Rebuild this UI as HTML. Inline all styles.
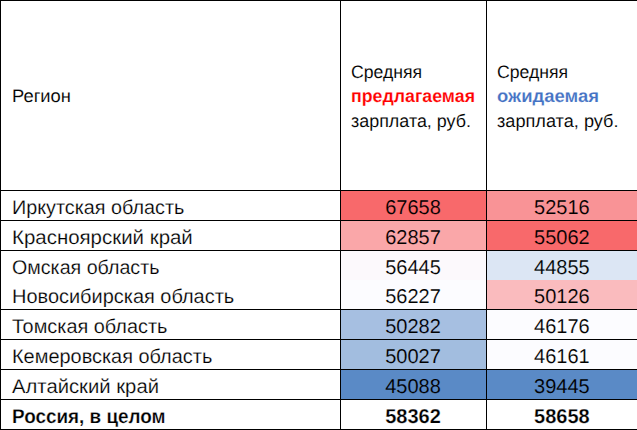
<!DOCTYPE html>
<html><head><meta charset="utf-8"><style>
html,body{margin:0;padding:0;background:#fff;width:637px;height:430px;overflow:hidden}
svg{display:block}
text{font-family:"Liberation Sans", sans-serif}
</style></head><body>
<svg width="637" height="430" viewBox="0 0 637 430" shape-rendering="crispEdges">
<rect x="0" y="0" width="637" height="430" fill="#fff"/>
<rect x="341" y="191" width="145" height="29" fill="#F8696B"/>
<rect x="341" y="221" width="145" height="29" fill="#FAA7A9"/>
<rect x="341" y="251" width="145" height="29" fill="#FCF9FC"/>
<rect x="341" y="280" width="145" height="29" fill="#FCFCFF"/>
<rect x="341" y="310" width="145" height="29" fill="#A6BFE1"/>
<rect x="341" y="340" width="145" height="29" fill="#A2BDDF"/>
<rect x="341" y="370" width="145" height="29" fill="#5A8AC6"/>
<rect x="487" y="191" width="150" height="29" fill="#F99396"/>
<rect x="487" y="221" width="150" height="29" fill="#F8696B"/>
<rect x="487" y="251" width="150" height="29" fill="#DCE6F4"/>
<rect x="487" y="280" width="150" height="29" fill="#FABBBE"/>
<rect x="487" y="310" width="150" height="29" fill="#FCFCFF"/>
<rect x="487" y="340" width="150" height="29" fill="#FCFCFF"/>
<rect x="487" y="370" width="150" height="29" fill="#5A8AC6"/>
<rect x="0" y="0" width="637" height="1" fill="#000"/>
<rect x="0" y="190" width="637" height="1" fill="#000"/>
<rect x="0" y="220" width="637" height="1" fill="#000"/>
<rect x="0" y="250" width="637" height="1" fill="#000"/>
<rect x="0" y="309" width="637" height="1" fill="#000"/>
<rect x="0" y="339" width="637" height="1" fill="#000"/>
<rect x="0" y="369" width="637" height="1" fill="#000"/>
<rect x="0" y="399" width="637" height="1" fill="#000"/>
<rect x="0" y="429" width="637" height="1" fill="#000"/>
<rect x="0" y="0" width="1" height="430" fill="#000"/>
<rect x="340" y="0" width="1" height="430" fill="#000"/>
<rect x="486" y="0" width="1" height="430" fill="#000"/>
<g font-family="Liberation Sans, sans-serif" text-rendering="geometricPrecision" shape-rendering="auto">
<text x="12.0" y="214" font-size="19.8" stroke="#fff" stroke-width="0.2" textLength="172.40" lengthAdjust="spacingAndGlyphs">Иркутская область</text>
<text x="12.0" y="244" font-size="19.8" stroke="#fff" stroke-width="0.2" textLength="180.80" lengthAdjust="spacingAndGlyphs">Красноярский край</text>
<text x="12.0" y="274" font-size="19.8" stroke="#fff" stroke-width="0.2" textLength="147.40" lengthAdjust="spacingAndGlyphs">Омская область</text>
<text x="12.0" y="303" font-size="19.8" stroke="#fff" stroke-width="0.2" textLength="222.20" lengthAdjust="spacingAndGlyphs">Новосибирская область</text>
<text x="12.0" y="333" font-size="19.8" stroke="#fff" stroke-width="0.2" textLength="155.40" lengthAdjust="spacingAndGlyphs">Томская область</text>
<text x="12.0" y="363" font-size="19.8" stroke="#fff" stroke-width="0.2" textLength="200.30" lengthAdjust="spacingAndGlyphs">Кемеровская область</text>
<text x="12.0" y="393" font-size="19.8" stroke="#fff" stroke-width="0.2" textLength="147.00" lengthAdjust="spacingAndGlyphs">Алтайский край</text>
<text x="12.0" y="423" font-size="19.8" font-weight="bold" stroke="#fff" stroke-width="0.25" textLength="153.60" lengthAdjust="spacingAndGlyphs">Россия, в целом</text>
<text x="413" y="214" font-size="20" text-anchor="middle" stroke="#F8696B" stroke-width="0.15">67658</text>
<text x="561.9" y="214" font-size="20" text-anchor="middle" stroke="#F99396" stroke-width="0.15">52516</text>
<text x="413" y="244" font-size="20" text-anchor="middle" stroke="#FAA7A9" stroke-width="0.15">62857</text>
<text x="561.9" y="244" font-size="20" text-anchor="middle" stroke="#F8696B" stroke-width="0.15">55062</text>
<text x="413" y="274" font-size="20" text-anchor="middle" stroke="#FCF9FC" stroke-width="0.15">56445</text>
<text x="561.9" y="274" font-size="20" text-anchor="middle" stroke="#DCE6F4" stroke-width="0.15">44855</text>
<text x="413" y="303" font-size="20" text-anchor="middle" stroke="#FCFCFF" stroke-width="0.15">56227</text>
<text x="561.9" y="303" font-size="20" text-anchor="middle" stroke="#FABBBE" stroke-width="0.15">50126</text>
<text x="413" y="333" font-size="20" text-anchor="middle" stroke="#A6BFE1" stroke-width="0.15">50282</text>
<text x="561.9" y="333" font-size="20" text-anchor="middle" stroke="#FCFCFF" stroke-width="0.15">46176</text>
<text x="413" y="363" font-size="20" text-anchor="middle" stroke="#A2BDDF" stroke-width="0.15">50027</text>
<text x="561.9" y="363" font-size="20" text-anchor="middle" stroke="#FCFCFF" stroke-width="0.15">46161</text>
<text x="413" y="393" font-size="20" text-anchor="middle" stroke="#5A8AC6" stroke-width="0.15">45088</text>
<text x="561.9" y="393" font-size="20" text-anchor="middle" stroke="#5A8AC6" stroke-width="0.15">39445</text>
<text x="413" y="423" font-size="20" text-anchor="middle" font-weight="bold" stroke="#fff" stroke-width="0.25">58362</text>
<text x="561.9" y="423" font-size="20" text-anchor="middle" font-weight="bold" stroke="#fff" stroke-width="0.25">58658</text>
<text x="12.0" y="102" font-size="18" fill="#000" stroke="#fff" stroke-width="0.1" textLength="58.90" lengthAdjust="spacingAndGlyphs">Регион</text>
<text x="351.0" y="78" font-size="18" fill="#000" stroke="#fff" stroke-width="0.1" textLength="71.10" lengthAdjust="spacingAndGlyphs">Средняя</text>
<text x="351.0" y="102" font-size="18" fill="#FF0000" font-weight="bold" stroke="#fff" stroke-width="0.15" textLength="124.00" lengthAdjust="spacingAndGlyphs">предлагаемая</text>
<text x="351.0" y="127" font-size="18" fill="#000" stroke="#fff" stroke-width="0.1" textLength="120.00" lengthAdjust="spacingAndGlyphs">зарплата, руб.</text>
<text x="497.0" y="78" font-size="18" fill="#000" stroke="#fff" stroke-width="0.1" textLength="71.00" lengthAdjust="spacingAndGlyphs">Средняя</text>
<text x="497.0" y="102" font-size="18" fill="#4472C4" font-weight="bold" stroke="#fff" stroke-width="0.15" textLength="102.00" lengthAdjust="spacingAndGlyphs">ожидаемая</text>
<text x="497.0" y="127" font-size="18" fill="#000" stroke="#fff" stroke-width="0.1" textLength="121.50" lengthAdjust="spacingAndGlyphs">зарплата, руб.</text>
</g></svg>
</body></html>
